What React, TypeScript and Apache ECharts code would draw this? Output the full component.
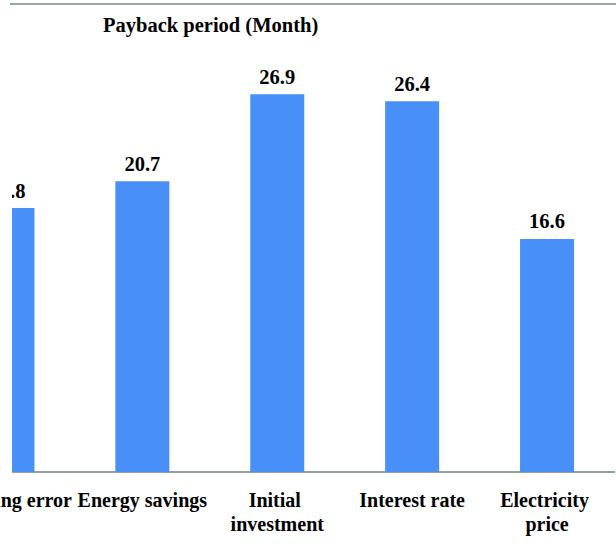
import React, { useEffect, useRef } from "react";
import * as echarts from "echarts";

const categories = ["Metering error", "Energy savings", "Initial investment", "Interest rate", "Electricity price"];
const values = [18.8, 20.7, 26.9, 26.4, 16.6];
const titleText = "Payback period (Month)";

const OFF = 72; // chart is shifted left so the first bar is cut, as in the reference
const W = 700;
const H = 548;
const FONT = "'Liberation Serif', 'Times New Roman', serif";

export default function App() {
  const ref = useRef<HTMLDivElement>(null);
  useEffect(() => {
    if (!ref.current) return;
    const chart = echarts.init(ref.current, undefined, { renderer: "svg" });
    chart.setOption({
      animation: false,
      backgroundColor: "#ffffff",
      title: {
        text: titleText,
        left: 103 + OFF,
        top: 14,
        padding: 0,
        textStyle: { fontFamily: FONT, fontWeight: "bold", fontSize: 20.5, color: "#000" },
      },
      grid: { left: OFF - 60, right: W - (OFF + 614.5), top: 472 - 30 * 14.04, bottom: H - 472, containLabel: false },
      xAxis: {
        type: "category",
        data: categories,
        axisLine: { show: true, lineStyle: { color: "#6e8282", width: 1.5 } },
        axisTick: { show: false },
        axisLabel: {
          interval: 0,
          margin: 16,
          fontFamily: FONT,
          fontWeight: "bold",
          fontSize: 20,
          lineHeight: 24,
          color: "#000",
          width: 134,
          overflow: "break",
        },
      },
      yAxis: { type: "value", min: 0, max: 30, show: false, splitLine: { show: false } },
      series: [
        {
          type: "bar",
          data: values,
          barWidth: 54,
          itemStyle: { color: "#488ff8" },
          label: {
            show: true,
            position: "top",
            distance: 7,
            formatter: (p: any) => p.value.toFixed(1),
            fontFamily: FONT,
            fontWeight: "bold",
            fontSize: 20.5,
            color: "#000",
          },
        },
      ],
      graphic: [
        { type: "rect", z: 100, shape: { x: 0, y: 0, width: OFF + 12, height: 474 }, style: { fill: "#ffffff" } },
        { type: "line", z: 101, shape: { x1: OFF + 10, y1: 4, x2: W, y2: 4 }, style: { stroke: "#6e8a8a", lineWidth: 1.5 } },
      ],
    });
    return () => chart.dispose();
  }, []);
  return (
    <div style={{ position: "fixed", left: 0, top: 0, width: 616, height: H, overflow: "hidden", background: "#fff" }}>
      <div ref={ref} style={{ position: "absolute", left: -OFF, top: 0, width: W, height: H }} />
    </div>
  );
}
